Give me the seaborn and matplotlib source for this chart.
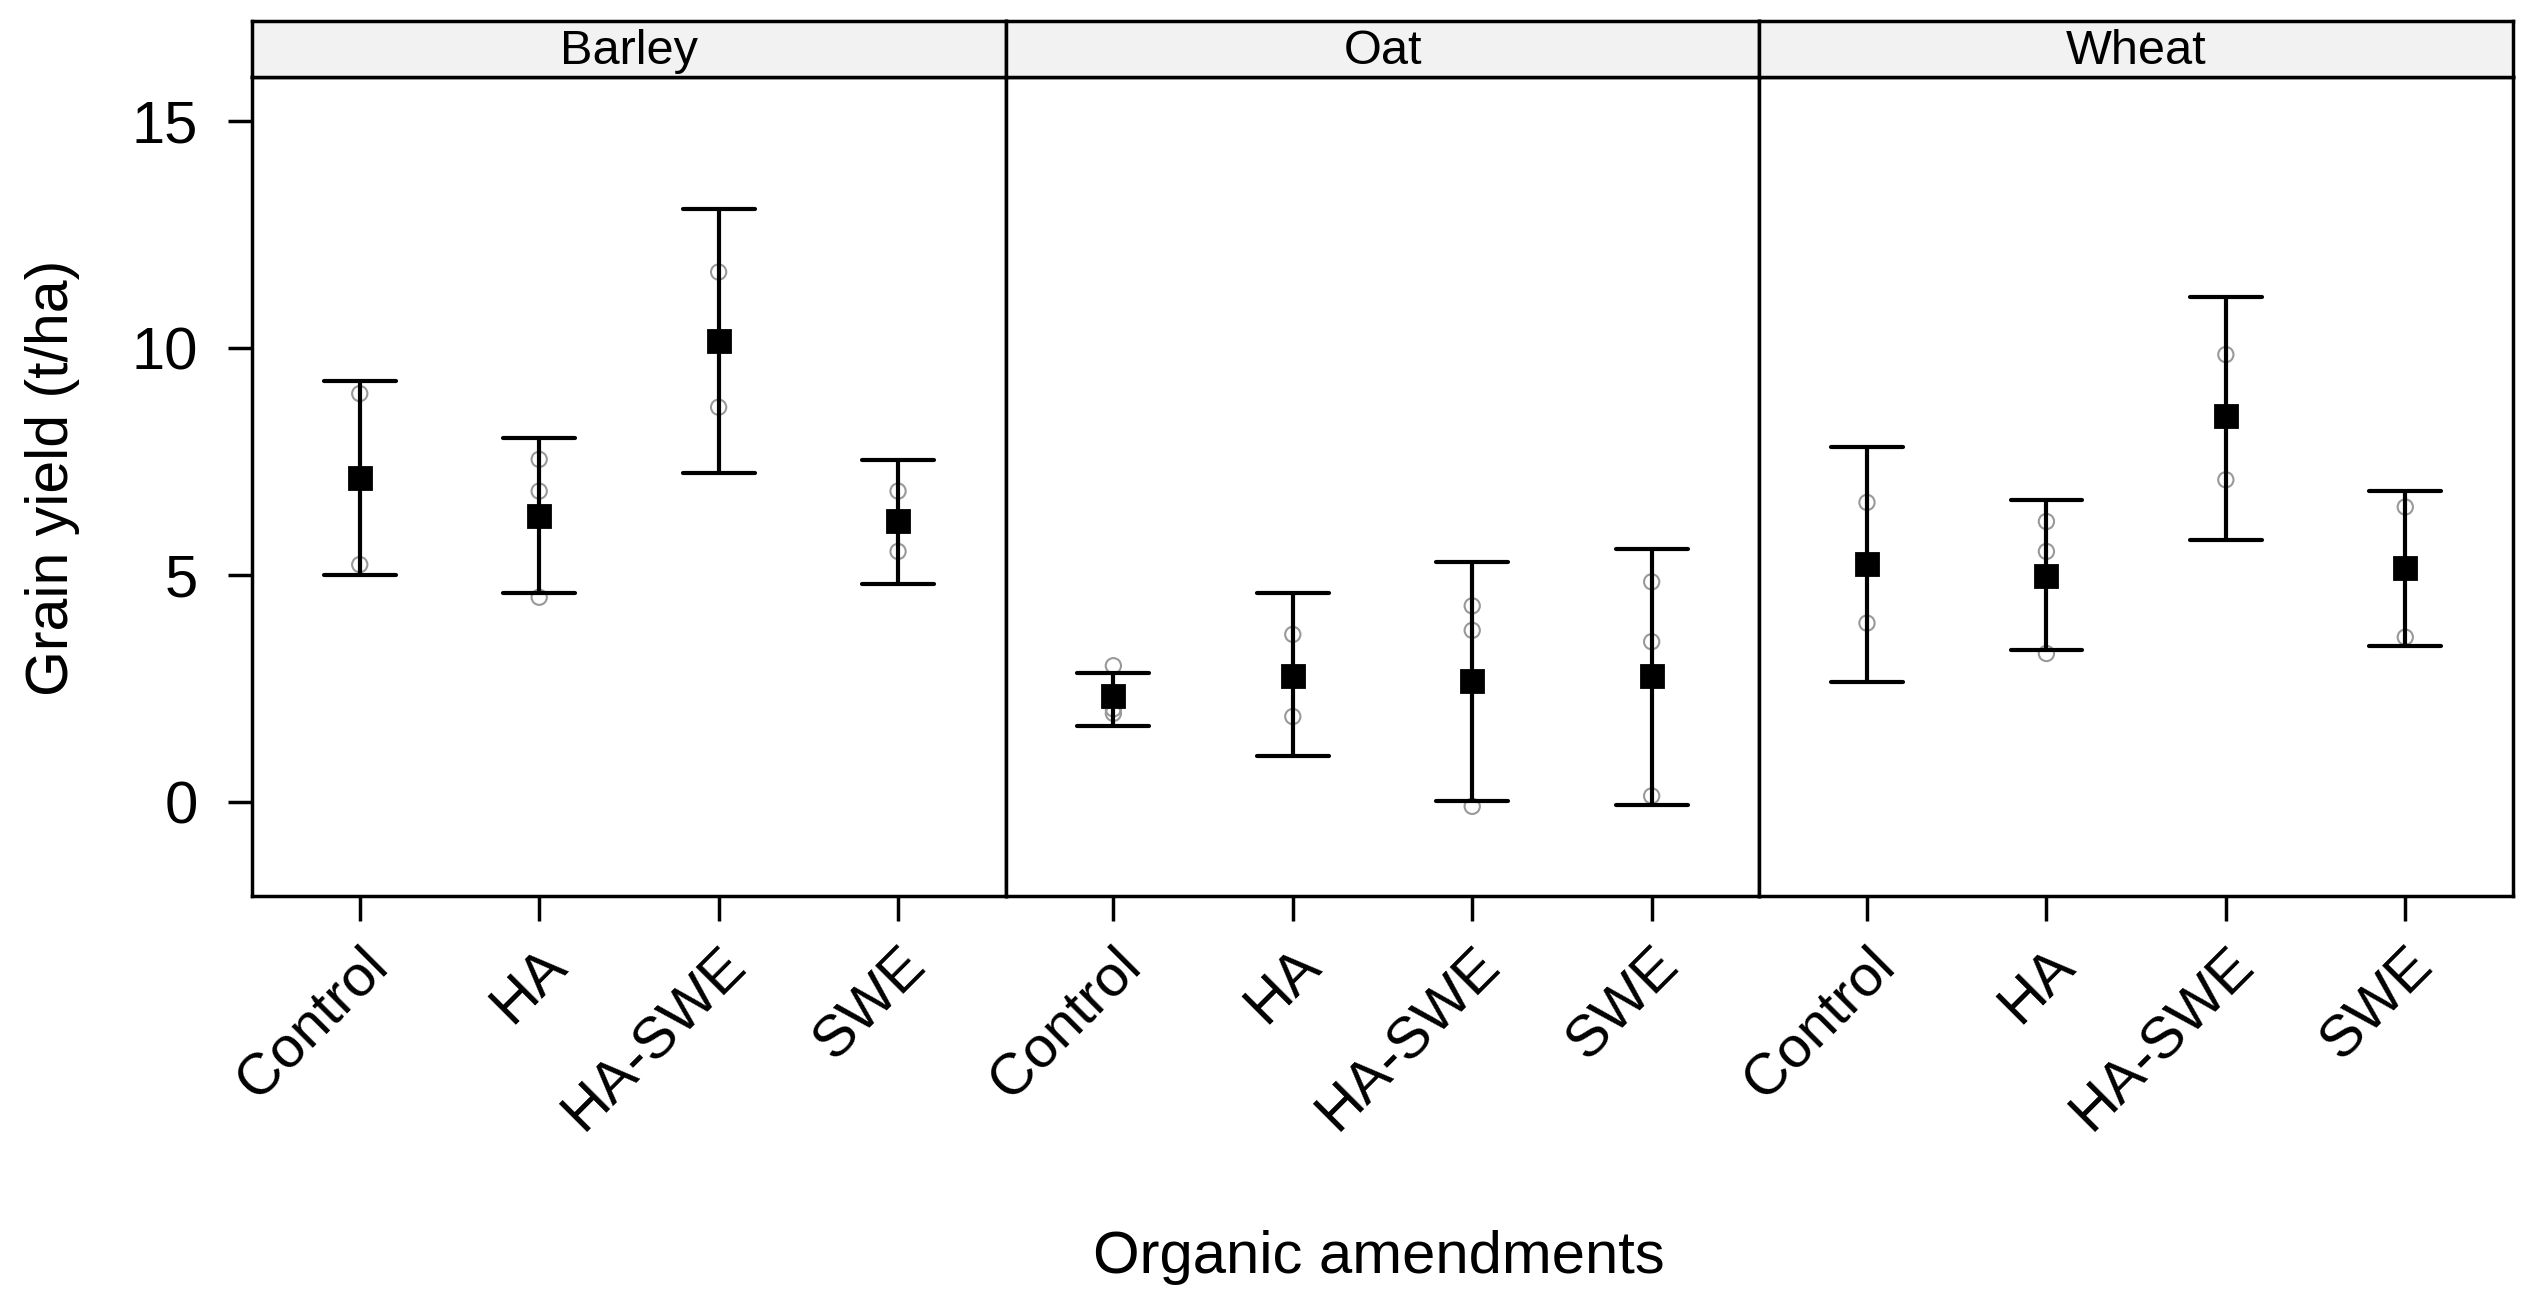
import numpy as np
import pandas as pd
import matplotlib
matplotlib.use('Agg')
import matplotlib.pyplot as plt
import seaborn as sns

crops = ['Barley', 'Oat', 'Wheat']
amendments = ['Control', 'HA', 'HA-SWE', 'SWE']

# mean grain yield (t/ha) per amendment
mean_barley = [7.13, 6.31, 10.16, 6.18]
mean_oat = [2.33, 2.77, 2.67, 2.77]
mean_wheat = [5.25, 4.98, 8.50, 5.15]

# lower / upper ends of the error bars
lower_barley = [4.99, 4.60, 7.24, 4.80]
lower_oat = [1.67, 1.00, 0.01, -0.08]
lower_wheat = [2.65, 3.34, 5.78, 3.43]
upper_barley = [9.28, 8.02, 13.08, 7.53]
upper_oat = [2.84, 4.60, 5.28, 5.58]
upper_wheat = [7.83, 6.65, 11.14, 6.85]

# raw plot values
raw_barley = [[9.00, 5.23], [7.55, 6.85, 4.51], [11.68, 8.70], [6.85, 5.52]]
raw_oat = [[3.00, 2.05, 1.95], [3.69, 1.88], [4.32, 3.78, -0.10], [4.85, 3.53, 0.13]]
raw_wheat = [[6.60, 3.94], [6.18, 5.52, 3.27], [9.86, 7.10], [6.50, 3.63]]

means = {'Barley': mean_barley, 'Oat': mean_oat, 'Wheat': mean_wheat}
lowers = {'Barley': lower_barley, 'Oat': lower_oat, 'Wheat': lower_wheat}
uppers = {'Barley': upper_barley, 'Oat': upper_oat, 'Wheat': upper_wheat}
raws = {'Barley': raw_barley, 'Oat': raw_oat, 'Wheat': raw_wheat}

mean_rows, bound_rows, point_rows = [], [], []
for crop in crops:
    for i, am in enumerate(amendments):
        mean_rows.append((crop, am, means[crop][i]))
        bound_rows.append((crop, am, lowers[crop][i]))
        bound_rows.append((crop, am, uppers[crop][i]))
        for v in raws[crop][i]:
            point_rows.append((crop, am, v))
means_df = pd.DataFrame(mean_rows, columns=['crop', 'amendment', 'value'])
bounds_df = pd.DataFrame(bound_rows, columns=['crop', 'amendment', 'value'])
points_df = pd.DataFrame(point_rows, columns=['crop', 'amendment', 'value'])

sns.set_theme(style='white')
plt.rcParams['font.family'] = ['Liberation Sans', 'DejaVu Sans']
plt.rcParams['text.color'] = 'black'

fig, axes = plt.subplots(1, 3, figsize=(25.21, 13.14), dpi=100, sharey=True)
fig.subplots_adjust(left=0.100, right=0.9968, bottom=0.318, top=0.9414, wspace=0)

for k, (ax, crop) in enumerate(zip(axes, crops)):
    n_before = len(ax.collections)
    sns.stripplot(data=points_df[points_df.crop == crop], x='amendment', y='value',
                  order=amendments, jitter=False, marker='o', size=11,
                  color='#999999', linewidth=1.5, ax=ax, zorder=2)
    for pts in ax.collections[n_before:]:
        pts.set_facecolor('none')
        pts.set_edgecolor('#999999')

    # error bars: span between the two bounds
    sns.pointplot(data=bounds_df[bounds_df.crop == crop], x='amendment', y='value',
                  order=amendments, errorbar=('pi', 100), capsize=0.4,
                  linestyle='none', markersize=0, color='black',
                  err_kws={'linewidth': 3.0}, ax=ax, zorder=3)

    sns.pointplot(data=means_df[means_df.crop == crop], x='amendment', y='value',
                  order=amendments, errorbar=None, linestyle='none', marker='s',
                  markersize=16.5, color='black', ax=ax, zorder=4)

    ax.set_xlim(-0.6, 3.6)
    ax.set_ylim(-2.08, 15.98)
    ax.set_xlabel('')
    ax.set_ylabel('')
    ax.set_yticks([0, 5, 10, 15])
    for sp in ax.spines.values():
        sp.set_visible(True)
        sp.set_color('black')
        sp.set_linewidth(2.5)
    ax.tick_params(axis='x', bottom=True, direction='out', length=18, width=2.5,
                   labelsize=42, colors='black', pad=12)
    ax.tick_params(axis='y', left=(k == 0), direction='out', length=17, width=2.5,
                   labelsize=43, colors='black', pad=22)
    for lbl in ax.get_xticklabels():
        lbl.set_rotation(45)
        lbl.set_ha('right')
        lbl.set_va('top')
        lbl.set_rotation_mode('anchor')

    pos = ax.get_position()
    sax = fig.add_axes([pos.x0, pos.y1, pos.width, 0.0426])
    sax.set_facecolor('#f2f2f2')
    sax.set_xticks([])
    sax.set_yticks([])
    for sp in sax.spines.values():
        sp.set_visible(True)
        sp.set_color('black')
        sp.set_linewidth(2.5)
    sax.text(0.5, 0.46, crop, ha='center', va='center', fontsize=35,
             color='black', transform=sax.transAxes)

fig.text(0.547, 0.043, 'Organic amendments', ha='center', va='center',
         fontsize=43, color='black')
fig.text(0.021, 0.636, 'Grain yield (t/ha)', ha='center', va='center',
         rotation=90, fontsize=42.5, color='black')

fig.savefig('out.png', dpi=100)
